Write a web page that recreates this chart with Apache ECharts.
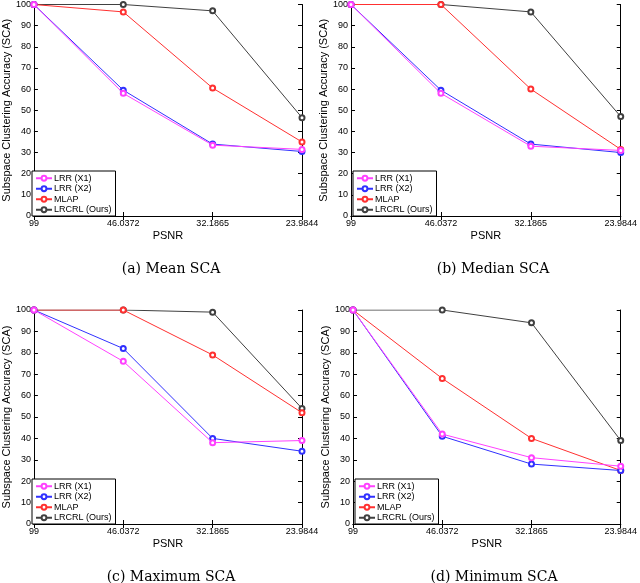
<!DOCTYPE html>
<html>
<head>
<meta charset="utf-8">
<script src="https://cdn.jsdelivr.net/npm/echarts@6/dist/echarts.min.js"></script>
<style>
  html, body { margin: 0; padding: 0; background: #fff; }
  #main { width: 640px; height: 583px; }
</style>
</head>
<body>
<div id="main"></div>
<script>
// x categories (PSNR)
const psnr = ["99", "46.0372", "32.1865", "23.9844"];
const seriesNames = ["LRR (X1)", "LRR (X2)", "MLAP", "LRCRL (Ours)"];
const seriesColors = ["#ff40ff", "#3030ff", "#ff3030", "#404040"];
const yTicks = [0, 10, 20, 30, 40, 50, 60, 70, 80, 90, 100];

// (a) mean
const meanX1 = [100, 58, 33.5, 31.5];
const meanX2 = [100, 59.5, 34, 30.5];
const meanMLAP = [100, 96.5, 60.5, 35];
const meanLRCRL = [100, 100, 97, 46.5];
// (b) median
const medX1 = [100, 58, 33, 31];
const medX2 = [100, 59.5, 34, 30];
const medMLAP = [100, 100, 60, 31.5];
const medLRCRL = [100, 100, 96.5, 47];
// (c) maximum
const maxX1 = [100, 76, 38, 39];
const maxX2 = [100, 82, 40, 34];
const maxMLAP = [100, 100, 79, 52];
const maxLRCRL = [100, 100, 99, 54];
// (d) minimum
const minX1 = [100, 42, 31, 27];
const minX2 = [100, 41, 28, 25];
const minMLAP = [100, 68, 40, 25];
const minLRCRL = [100, 100, 94, 39];

const captions = ["(a) Mean SCA", "(b) Median SCA", "(c) Maximum SCA", "(d) Minimum SCA"];
const panelData = [
  [meanX1, meanX2, meanMLAP, meanLRCRL],
  [medX1, medX2, medMLAP, medLRCRL],
  [maxX1, maxX2, maxMLAP, maxLRCRL],
  [minX1, minX2, minMLAP, minLRCRL]
];

// panel boxes
const grids = [
  { left: 30, top: 3, width: 272, height: 213 },
  { left: 351, top: 3, width: 274, height: 213 },
  { left: 30, top: 310, width: 272, height: 214 },
  { left: 353, top: 310, width: 272, height: 214 }
];

const font = "Liberation Sans";
var option = {
  animation: false,
  backgroundColor: "#fff",
  grid: [],
  xAxis: [],
  yAxis: [],
  series: [],
  legend: [],
  title: []
};

grids.forEach(function (g, i) {
  option.grid.push({ left: g.left, top: g.top, width: g.width, height: g.height });
  // bottom x axis
  option.xAxis.push({
    gridIndex: i,
    type: "category",
    data: psnr,
    boundaryGap: false,
    name: "PSNR",
    nameLocation: "middle",
    nameGap: 14,
    nameTextStyle: { fontFamily: font, fontSize: 11, color: "#000" },
    axisLine: { lineStyle: { color: "#000", width: 1 } },
    axisTick: { inside: true, length: 4, lineStyle: { color: "#000" } },
    axisLabel: { fontFamily: font, fontSize: 9, color: "#000", margin: 3 },
    splitLine: { show: false }
  });
  // top x axis (frame)
  option.xAxis.push({
    gridIndex: i,
    type: "category",
    data: psnr,
    boundaryGap: false,
    position: "top",
    axisLine: { lineStyle: { color: "#000", width: 1 } },
    axisTick: { inside: true, length: 4, lineStyle: { color: "#000" } },
    axisLabel: { show: false },
    splitLine: { show: false }
  });
  option.yAxis.push({
    gridIndex: i,
    type: "value",
    min: yTicks[0],
    max: yTicks[yTicks.length - 1],
    interval: 10,
    name: "Subspace Clustering Accuracy (SCA)",
    nameLocation: "middle",
    nameGap: 19,
    nameTextStyle: { fontFamily: font, fontSize: 11, color: "#000" },
    axisLine: { show: true, lineStyle: { color: "#000", width: 1 } },
    axisTick: { show: true, inside: true, length: 4, lineStyle: { color: "#000" } },
    axisLabel: { fontFamily: font, fontSize: 9, color: "#000", margin: 3 },
    splitLine: { show: false }
  });
  option.yAxis.push({
    gridIndex: i,
    type: "value",
    min: yTicks[0],
    max: yTicks[yTicks.length - 1],
    interval: 10,
    position: "right",
    axisLine: { show: true, lineStyle: { color: "#000", width: 1 } },
    axisTick: { show: true, inside: true, length: 4, lineStyle: { color: "#000" } },
    axisLabel: { show: false },
    splitLine: { show: false }
  });

  panelData[i].forEach(function (vals, k) {
    option.series.push({
      name: seriesNames[k],
      type: "line",
      xAxisIndex: i * 2,
      yAxisIndex: i * 2,
      data: vals,
      symbol: "emptyCircle",
      symbolSize: 5,
      lineStyle: { color: seriesColors[k], width: 1 },
      itemStyle: { color: seriesColors[k], borderWidth: 1 },
      z: 10 - k
    });
  });

  option.legend.push({
    data: seriesNames,
    orient: "vertical",
    left: g.left + 2,
    top: g.top + g.height - 45,
    itemWidth: 16,
    itemHeight: 6,
    itemGap: 0,
    padding: [2, 4, 1, 3],
    backgroundColor: "#fff",
    borderColor: "#000",
    borderWidth: 1,
    textStyle: { fontFamily: font, fontSize: 9, lineHeight: 10.5, color: "#000", padding: [0, 0, 0, -3] },
    selectedMode: false,
    z: 20
  });

  option.title.push({
    text: captions[i],
    left: g.left + g.width / 2,
    textAlign: "center",
    top: g.top + g.height + 41,
    textStyle: { fontFamily: "DejaVu Serif", fontSize: 14, fontWeight: "normal", color: "#000" }
  });
});

var myChart = echarts.init(document.getElementById("main"));
myChart.setOption(option);
</script>
</body>
</html>
